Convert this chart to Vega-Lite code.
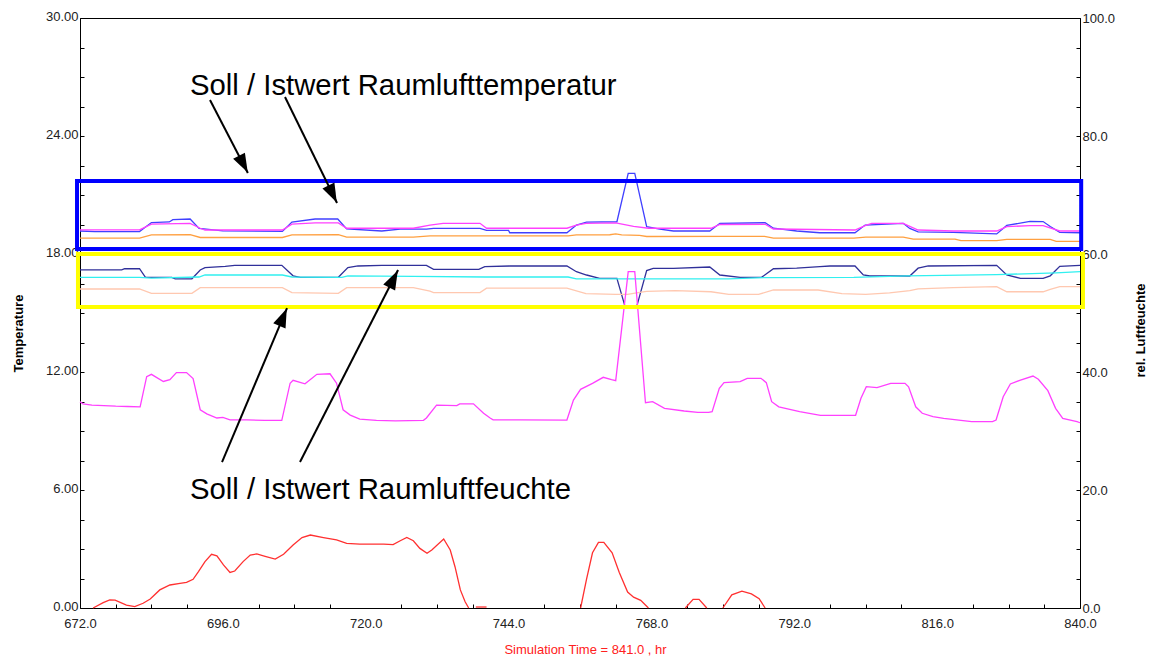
{
"$schema":"https://vega.github.io/schema/vega-lite/v6.json",
"width":1000,"height":590,
"autosize":{"type":"none"},
"padding":{"left":80,"top":18,"right":70,"bottom":52},
"background":"white",
"config":{"view":{"stroke":"#000","strokeWidth":1},
"axis":{"labelFont":"Liberation Sans","labelFontSize":13,"labelColor":"#222","titleFont":"Liberation Sans","titleFontSize":13,"titleFontWeight":"bold","titleColor":"#000","domainColor":"#000","tickColor":"#000","grid":false,"tickSize":-4,"labelOverlap":false,"labelFlush":false}},
"datasets":{
"temp":[
{"s":"T1","t":672,"v":19.17},{"s":"T1","t":674.5,"v":19.14},{"s":"T1","t":682,"v":19.14},{"s":"T1","t":684,"v":19.6},{"s":"T1","t":687,"v":19.63},{"s":"T1","t":687.6,"v":19.75},{"s":"T1","t":690.5,"v":19.78},{"s":"T1","t":692,"v":19.3},{"s":"T1","t":696,"v":19.18},{"s":"T1","t":706,"v":19.15},{"s":"T1","t":707.6,"v":19.62},{"s":"T1","t":711.5,"v":19.78},{"s":"T1","t":715.3,"v":19.78},{"s":"T1","t":716.8,"v":19.28},{"s":"T1","t":722.7,"v":19.17},{"s":"T1","t":725.8,"v":19.26},{"s":"T1","t":730.2,"v":19.26},{"s":"T1","t":731.4,"v":19.3},{"s":"T1","t":739.2,"v":19.3},{"s":"T1","t":740.3,"v":19.2},{"s":"T1","t":744,"v":19.2},{"s":"T1","t":744.2,"v":19.08},{"s":"T1","t":753.8,"v":19.08},{"s":"T1","t":755.4,"v":19.47},{"s":"T1","t":757.1,"v":19.62},{"s":"T1","t":762.2,"v":19.64},{"s":"T1","t":764.1,"v":22.1},{"s":"T1","t":765.2,"v":22.1},{"s":"T1","t":767.2,"v":19.39},{"s":"T1","t":769.4,"v":19.27},{"s":"T1","t":771.7,"v":19.17},{"s":"T1","t":777.8,"v":19.17},{"s":"T1","t":779.5,"v":19.56},{"s":"T1","t":787.1,"v":19.59},{"s":"T1","t":788.5,"v":19.31},{"s":"T1","t":792.4,"v":19.17},{"s":"T1","t":796.3,"v":19.08},{"s":"T1","t":802.2,"v":19.08},{"s":"T1","t":803.9,"v":19.47},{"s":"T1","t":810.3,"v":19.56},{"s":"T1","t":811.4,"v":19.3},{"s":"T1","t":812.8,"v":19.12},{"s":"T1","t":818.7,"v":19.1},{"s":"T1","t":826,"v":19.02},{"s":"T1","t":827.7,"v":19.45},{"s":"T1","t":831.6,"v":19.66},{"s":"T1","t":833.8,"v":19.65},{"s":"T1","t":835,"v":19.4},{"s":"T1","t":836.6,"v":19.1},{"s":"T1","t":840,"v":19.08},
{"s":"T2","t":672,"v":19.23},{"s":"T2","t":682,"v":19.23},{"s":"T2","t":684,"v":19.52},{"s":"T2","t":690.5,"v":19.56},{"s":"T2","t":692.2,"v":19.31},{"s":"T2","t":693,"v":19.22},{"s":"T2","t":706,"v":19.22},{"s":"T2","t":707.6,"v":19.52},{"s":"T2","t":711.5,"v":19.58},{"s":"T2","t":715.4,"v":19.58},{"s":"T2","t":716.8,"v":19.31},{"s":"T2","t":728,"v":19.31},{"s":"T2","t":730.8,"v":19.47},{"s":"T2","t":733,"v":19.56},{"s":"T2","t":739.2,"v":19.56},{"s":"T2","t":740.3,"v":19.31},{"s":"T2","t":753.8,"v":19.31},{"s":"T2","t":755.4,"v":19.47},{"s":"T2","t":757,"v":19.56},{"s":"T2","t":762,"v":19.58},{"s":"T2","t":765,"v":19.4},{"s":"T2","t":767.5,"v":19.31},{"s":"T2","t":778,"v":19.31},{"s":"T2","t":779.5,"v":19.5},{"s":"T2","t":787.1,"v":19.51},{"s":"T2","t":788.5,"v":19.27},{"s":"T2","t":802.2,"v":19.22},{"s":"T2","t":803.9,"v":19.44},{"s":"T2","t":805,"v":19.56},{"s":"T2","t":810.3,"v":19.56},{"s":"T2","t":812.8,"v":19.22},{"s":"T2","t":818.7,"v":19.17},{"s":"T2","t":826,"v":19.17},{"s":"T2","t":827.7,"v":19.39},{"s":"T2","t":831.6,"v":19.44},{"s":"T2","t":833.8,"v":19.44},{"s":"T2","t":836.6,"v":19.17},{"s":"T2","t":840,"v":19.17},
{"s":"T3","t":672,"v":18.81},{"s":"T3","t":682,"v":18.81},{"s":"T3","t":684,"v":18.97},{"s":"T3","t":690.5,"v":18.98},{"s":"T3","t":692.2,"v":18.84},{"s":"T3","t":706,"v":18.84},{"s":"T3","t":707.6,"v":18.97},{"s":"T3","t":715.4,"v":18.98},{"s":"T3","t":716.8,"v":18.86},{"s":"T3","t":728,"v":18.86},{"s":"T3","t":730.8,"v":18.92},{"s":"T3","t":754,"v":18.92},{"s":"T3","t":755.4,"v":18.97},{"s":"T3","t":761,"v":18.98},{"s":"T3","t":762,"v":19.02},{"s":"T3","t":763,"v":18.97},{"s":"T3","t":766,"v":18.95},{"s":"T3","t":767.2,"v":18.89},{"s":"T3","t":781,"v":18.9},{"s":"T3","t":787,"v":18.9},{"s":"T3","t":788.5,"v":18.81},{"s":"T3","t":802,"v":18.81},{"s":"T3","t":804,"v":18.86},{"s":"T3","t":810.3,"v":18.86},{"s":"T3","t":812,"v":18.76},{"s":"T3","t":819,"v":18.76},{"s":"T3","t":820,"v":18.68},{"s":"T3","t":826,"v":18.68},{"s":"T3","t":827.7,"v":18.74},{"s":"T3","t":835,"v":18.74},{"s":"T3","t":836,"v":18.64},{"s":"T3","t":840,"v":18.64},
{"s":"T4","g":1,"t":674.2,"v":0},{"s":"T4","g":1,"t":675.9,"v":0.27},{"s":"T4","g":1,"t":677,"v":0.41},{"s":"T4","g":1,"t":677.9,"v":0.4},{"s":"T4","g":1,"t":679.8,"v":0.15},{"s":"T4","g":1,"t":681.2,"v":0.07},{"s":"T4","g":1,"t":682.6,"v":0.24},{"s":"T4","g":1,"t":683.8,"v":0.46},{"s":"T4","g":1,"t":685.4,"v":0.92},{"s":"T4","g":1,"t":687.1,"v":1.17},{"s":"T4","g":1,"t":688.8,"v":1.25},{"s":"T4","g":1,"t":689.9,"v":1.3},{"s":"T4","g":1,"t":691,"v":1.46},{"s":"T4","g":1,"t":691.9,"v":1.85},{"s":"T4","g":1,"t":693,"v":2.36},{"s":"T4","g":1,"t":694.1,"v":2.73},{"s":"T4","g":1,"t":695,"v":2.65},{"s":"T4","g":1,"t":696.1,"v":2.19},{"s":"T4","g":1,"t":697.2,"v":1.81},{"s":"T4","g":1,"t":698,"v":1.88},{"s":"T4","g":1,"t":699.4,"v":2.36},{"s":"T4","g":1,"t":700.6,"v":2.69},{"s":"T4","g":1,"t":701.7,"v":2.75},{"s":"T4","g":1,"t":703.1,"v":2.63},{"s":"T4","g":1,"t":704.8,"v":2.49},{"s":"T4","g":1,"t":706.2,"v":2.73},{"s":"T4","g":1,"t":707.8,"v":3.2},{"s":"T4","g":1,"t":709.3,"v":3.58},{"s":"T4","g":1,"t":710.7,"v":3.71},{"s":"T4","g":1,"t":712.9,"v":3.58},{"s":"T4","g":1,"t":715.1,"v":3.46},{"s":"T4","g":1,"t":716.8,"v":3.29},{"s":"T4","g":1,"t":719,"v":3.25},{"s":"T4","g":1,"t":723,"v":3.25},{"s":"T4","g":1,"t":724.6,"v":3.22},{"s":"T4","g":1,"t":725.8,"v":3.42},{"s":"T4","g":1,"t":726.9,"v":3.59},{"s":"T4","g":1,"t":728,"v":3.42},{"s":"T4","g":1,"t":729.1,"v":3.03},{"s":"T4","g":1,"t":730.3,"v":2.78},{"s":"T4","g":1,"t":731.1,"v":2.95},{"s":"T4","g":1,"t":733.1,"v":3.51},{"s":"T4","g":1,"t":734.2,"v":2.95},{"s":"T4","g":1,"t":735,"v":2.1},{"s":"T4","g":1,"t":735.9,"v":0.92},{"s":"T4","g":1,"t":736.7,"v":0.32},{"s":"T4","g":1,"t":737.3,"v":0},
{"s":"T4","g":2,"t":738.5,"v":0.05},{"s":"T4","g":2,"t":740.3,"v":0.05},
{"s":"T4","g":3,"t":756.1,"v":0},{"s":"T4","g":3,"t":757.1,"v":1.47},{"s":"T4","g":3,"t":758.1,"v":2.81},{"s":"T4","g":3,"t":759.1,"v":3.34},{"s":"T4","g":3,"t":760,"v":3.34},{"s":"T4","g":3,"t":761.4,"v":2.81},{"s":"T4","g":3,"t":762.6,"v":1.81},{"s":"T4","g":3,"t":764,"v":0.81},{"s":"T4","g":3,"t":765,"v":0.55},{"s":"T4","g":3,"t":766.2,"v":0.39},{"s":"T4","g":3,"t":767.5,"v":0},
{"s":"T4","g":4,"t":773.7,"v":0},{"s":"T4","g":4,"t":775,"v":0.44},{"s":"T4","g":4,"t":776,"v":0.44},{"s":"T4","g":4,"t":777.3,"v":0},
{"s":"T4","g":5,"t":780,"v":0},{"s":"T4","g":5,"t":781.5,"v":0.67},{"s":"T4","g":5,"t":783.2,"v":0.86},{"s":"T4","g":5,"t":784.8,"v":0.72},{"s":"T4","g":5,"t":786.1,"v":0.47},{"s":"T4","g":5,"t":787.1,"v":0}
],
"hum":[
{"s":"H1","t":672,"v":57.3},{"s":"H1","t":679,"v":57.3},{"s":"H1","t":679.5,"v":57.5},{"s":"H1","t":682,"v":57.5},{"s":"H1","t":683,"v":56.05},{"s":"H1","t":687.4,"v":56.05},{"s":"H1","t":688,"v":55.8},{"s":"H1","t":690.8,"v":55.8},{"s":"H1","t":692.2,"v":57.3},{"s":"H1","t":693,"v":57.7},{"s":"H1","t":696.4,"v":57.9},{"s":"H1","t":698,"v":58.08},{"s":"H1","t":705.9,"v":58.08},{"s":"H1","t":707.8,"v":56.3},{"s":"H1","t":709,"v":56.05},{"s":"H1","t":715.4,"v":56.05},{"s":"H1","t":717,"v":57.7},{"s":"H1","t":718.7,"v":57.97},{"s":"H1","t":722.7,"v":58.08},{"s":"H1","t":730.2,"v":58.08},{"s":"H1","t":731.4,"v":57.4},{"s":"H1","t":739,"v":57.4},{"s":"H1","t":740,"v":57.85},{"s":"H1","t":744.2,"v":57.97},{"s":"H1","t":753.8,"v":57.97},{"s":"H1","t":755.4,"v":57.0},{"s":"H1","t":757.1,"v":56.44},{"s":"H1","t":759.3,"v":55.88},{"s":"H1","t":762.2,"v":55.88},{"s":"H1","t":763.6,"v":51.0},{"s":"H1","t":765.5,"v":51.0},{"s":"H1","t":767.2,"v":57.2},{"s":"H1","t":768.3,"v":57.57},{"s":"H1","t":771.7,"v":57.57},{"s":"H1","t":777.8,"v":57.8},{"s":"H1","t":779.5,"v":56.44},{"s":"H1","t":782.9,"v":56.05},{"s":"H1","t":786.5,"v":56.05},{"s":"H1","t":788.5,"v":57.5},{"s":"H1","t":792.4,"v":57.6},{"s":"H1","t":796.3,"v":57.85},{"s":"H1","t":798,"v":57.97},{"s":"H1","t":802.2,"v":57.97},{"s":"H1","t":803.6,"v":56.44},{"s":"H1","t":804.7,"v":56.27},{"s":"H1","t":811.4,"v":56.27},{"s":"H1","t":812.8,"v":57.6},{"s":"H1","t":814.5,"v":57.97},{"s":"H1","t":826,"v":58.08},{"s":"H1","t":827.7,"v":56.44},{"s":"H1","t":830,"v":55.88},{"s":"H1","t":833.8,"v":55.88},{"s":"H1","t":835,"v":56.3},{"s":"H1","t":836.6,"v":57.9},{"s":"H1","t":840,"v":58.08},
{"s":"H2","t":672,"v":56.05},{"s":"H2","t":682,"v":56.05},{"s":"H2","t":684,"v":55.9},{"s":"H2","t":692,"v":56.1},{"s":"H2","t":693,"v":56.44},{"s":"H2","t":706,"v":56.44},{"s":"H2","t":707.6,"v":56.1},{"s":"H2","t":716,"v":56.05},{"s":"H2","t":717,"v":56.3},{"s":"H2","t":728,"v":56.2},{"s":"H2","t":740,"v":56.1},{"s":"H2","t":754,"v":56.1},{"s":"H2","t":755.4,"v":55.8},{"s":"H2","t":781,"v":55.8},{"s":"H2","t":787,"v":56.0},{"s":"H2","t":802,"v":56.05},{"s":"H2","t":811,"v":56.3},{"s":"H2","t":826,"v":56.5},{"s":"H2","t":836,"v":56.8},{"s":"H2","t":840,"v":57.0},
{"s":"H3","t":672,"v":54.07},{"s":"H3","t":682,"v":54.07},{"s":"H3","t":684,"v":53.33},{"s":"H3","t":690.8,"v":53.33},{"s":"H3","t":692.2,"v":54.3},{"s":"H3","t":706,"v":54.3},{"s":"H3","t":707.6,"v":53.45},{"s":"H3","t":715.4,"v":53.33},{"s":"H3","t":716.8,"v":54.3},{"s":"H3","t":728,"v":54.3},{"s":"H3","t":730.8,"v":53.7},{"s":"H3","t":731.4,"v":53.45},{"s":"H3","t":739.2,"v":53.45},{"s":"H3","t":740.3,"v":54.2},{"s":"H3","t":753.8,"v":54.2},{"s":"H3","t":757,"v":53.3},{"s":"H3","t":762,"v":53.16},{"s":"H3","t":764,"v":53.16},{"s":"H3","t":766,"v":53.5},{"s":"H3","t":767.2,"v":53.65},{"s":"H3","t":772,"v":53.8},{"s":"H3","t":778,"v":53.6},{"s":"H3","t":781,"v":53.16},{"s":"H3","t":786,"v":53.16},{"s":"H3","t":788.5,"v":53.9},{"s":"H3","t":796,"v":53.9},{"s":"H3","t":800,"v":53.3},{"s":"H3","t":804,"v":53.16},{"s":"H3","t":808,"v":53.4},{"s":"H3","t":811.4,"v":53.8},{"s":"H3","t":812.8,"v":54.1},{"s":"H3","t":818.7,"v":54.3},{"s":"H3","t":826,"v":54.46},{"s":"H3","t":827.7,"v":53.6},{"s":"H3","t":833.8,"v":53.6},{"s":"H3","t":835,"v":54.0},{"s":"H3","t":836.6,"v":54.46},{"s":"H3","t":840,"v":54.46},
{"s":"H4","t":672,"v":34.97},{"s":"H4","t":672.5,"v":34.6},{"s":"H4","t":674,"v":34.4},{"s":"H4","t":676,"v":34.3},{"s":"H4","t":678,"v":34.2},{"s":"H4","t":680,"v":34.15},{"s":"H4","t":682.1,"v":34.1},{"s":"H4","t":683.2,"v":39.2},{"s":"H4","t":684,"v":39.6},{"s":"H4","t":686,"v":38.4},{"s":"H4","t":687.1,"v":38.7},{"s":"H4","t":688.2,"v":39.9},{"s":"H4","t":689.9,"v":39.9},{"s":"H4","t":691,"v":38.9},{"s":"H4","t":692.2,"v":33.6},{"s":"H4","t":693.3,"v":32.9},{"s":"H4","t":695,"v":32.2},{"s":"H4","t":696,"v":32.3},{"s":"H4","t":697.2,"v":31.9},{"s":"H4","t":700,"v":31.9},{"s":"H4","t":703,"v":31.8},{"s":"H4","t":705.9,"v":31.8},{"s":"H4","t":707.3,"v":38.1},{"s":"H4","t":707.8,"v":38.6},{"s":"H4","t":709.8,"v":38.0},{"s":"H4","t":711.8,"v":39.6},{"s":"H4","t":714,"v":39.7},{"s":"H4","t":715.1,"v":38.1},{"s":"H4","t":716.2,"v":33.6},{"s":"H4","t":717.4,"v":32.7},{"s":"H4","t":719,"v":32.0},{"s":"H4","t":721.8,"v":31.8},{"s":"H4","t":725,"v":31.7},{"s":"H4","t":729.7,"v":31.8},{"s":"H4","t":730.2,"v":32.2},{"s":"H4","t":731.9,"v":34.4},{"s":"H4","t":735.3,"v":34.3},{"s":"H4","t":735.8,"v":34.6},{"s":"H4","t":738.1,"v":34.6},{"s":"H4","t":739.8,"v":33.0},{"s":"H4","t":740.9,"v":32.2},{"s":"H4","t":741.4,"v":31.9},{"s":"H4","t":746,"v":31.9},{"s":"H4","t":753.8,"v":31.86},{"s":"H4","t":754.9,"v":35.25},{"s":"H4","t":756.1,"v":37.06},{"s":"H4","t":758.1,"v":38.08},{"s":"H4","t":759.9,"v":39.1},{"s":"H4","t":761.3,"v":38.7},{"s":"H4","t":762,"v":38.53},{"s":"H4","t":764.1,"v":57.0},{"s":"H4","t":765.2,"v":57.0},{"s":"H4","t":767,"v":34.8},{"s":"H4","t":768.2,"v":34.97},{"s":"H4","t":770.2,"v":33.84},{"s":"H4","t":773.5,"v":33.39},{"s":"H4","t":775.8,"v":33.16},{"s":"H4","t":777.6,"v":33.16},{"s":"H4","t":778.2,"v":33.28},{"s":"H4","t":779.4,"v":37.23},{"s":"H4","t":780.2,"v":38.2},{"s":"H4","t":782.9,"v":38.36},{"s":"H4","t":784.1,"v":38.93},{"s":"H4","t":786.4,"v":38.93},{"s":"H4","t":787.3,"v":38.2},{"s":"H4","t":788.2,"v":34.97},{"s":"H4","t":789.4,"v":34.1},{"s":"H4","t":792.9,"v":33.28},{"s":"H4","t":796.4,"v":32.66},{"s":"H4","t":802.3,"v":32.66},{"s":"H4","t":803.2,"v":35.54},{"s":"H4","t":804.1,"v":37.51},{"s":"H4","t":805.9,"v":37.34},{"s":"H4","t":808.2,"v":38.08},{"s":"H4","t":810.6,"v":38.08},{"s":"H4","t":811.2,"v":37.5},{"s":"H4","t":812.4,"v":34.1},{"s":"H4","t":813.5,"v":33.0},{"s":"H4","t":815.3,"v":32.43},{"s":"H4","t":817.1,"v":32.15},{"s":"H4","t":821.8,"v":31.58},{"s":"H4","t":825.3,"v":31.58},{"s":"H4","t":825.9,"v":31.86},{"s":"H4","t":827.1,"v":35.8},{"s":"H4","t":828.3,"v":37.97},{"s":"H4","t":830,"v":38.64},{"s":"H4","t":832.1,"v":39.32},{"s":"H4","t":833,"v":38.76},{"s":"H4","t":834.6,"v":36.83},{"s":"H4","t":835.9,"v":33.84},{"s":"H4","t":837.1,"v":32.15},{"s":"H4","t":839.5,"v":31.58},{"s":"H4","t":840,"v":31.4}
],
"boxes":[{"b":"temp","t":671.5,"t2":840.2,"v":21.71,"v2":18.25},{"b":"hum","t":671.66,"t2":840.5,"v":18.0,"v2":15.3}],
"arrows":[{"t":693.84,"v":25.83,"t2":700.2,"v2":22.12},{"t":706.44,"v":25.98,"t2":715.18,"v2":20.59},{"t":695.86,"v":7.42,"t2":706.78,"v2":15.25},{"t":708.96,"v":7.42,"t2":725.43,"v2":17.19}],
"heads":[{"t":699.45,"v":22.57,"a":152.5},{"t":714.44,"v":21.05,"a":153.9},{"t":706.12,"v":14.79,"a":22.9},{"t":724.67,"v":16.73,"a":27}],
"labels":[{"t":690.48,"v":26.08,"label":"Soll / Istwert Raumlufttemperatur"},{"t":690.48,"v":5.54,"label":"Soll / Istwert Raumluftfeuchte"}]
},
"encoding":{"x":{"field":"t","type":"quantitative","scale":{"domain":[672,840],"nice":false,"zero":false},
"axis":{"values":[672,678,684,690,696,702,708,714,720,726,732,738,744,750,756,762,768,774,780,786,792,798,804,810,816,822,828,834,840],"labelExpr":"datum.value % 24 === 0 ? format(datum.value, '.1f') : ''","labelPadding":13,"title":"Simulation Time = 841.0 , hr","titleColor":"#ff2020","titleFontWeight":"normal","titleX":505,"titleY":41,"titleBaseline":"middle","titleAlign":"center","tickColor":{"condition":{"test":"datum.value % 24 === 0","value":"#fff"},"value":"#000"}}}},
"layer":[
{"data":{"name":"hum"},
 "mark":{"type":"line","strokeWidth":1.3,"interpolate":"linear"},
 "encoding":{"y":{"field":"v","type":"quantitative","scale":{"domain":[0,100],"nice":false,"zero":false},
 "axis":{"orient":"right","values":[0,5,10,15,20,25,30,35,40,45,50,55,60,65,70,75,80,85,90,95,100],"labelExpr":"datum.value % 20 === 0 ? format(datum.value, '.1f') : ''","labelPadding":6,"title":"rel. Luftfeuchte","titleAngle":270,"titleX":60,"titleY":312,"titleAlign":"center","titleBaseline":"middle"}},
 "color":{"field":"s","type":"nominal","legend":null,"scale":{"domain":["T1","T2","T3","T4","H1","H2","H3","H4"],"range":["#4040ff","#ff40ff","#ffa040","#ff3030","#30309a","#30f0f0","#ffc8b0","#ff40ff"]}}}},
{"encoding":{"y":{"field":"v","type":"quantitative","scale":{"domain":[0,30],"nice":false,"zero":false},
 "axis":{"orient":"left","values":[0,1.5,3,4.5,6,7.5,9,10.5,12,13.5,15,16.5,18,19.5,21,22.5,24,25.5,27,28.5,30],"labelExpr":"datum.value % 6 === 0 ? format(datum.value, '.2f') : ''","labelPadding":6,"labelOffset":-2,"title":"Temperature","titleX":-62,"titleY":315,"titleAlign":"center","titleBaseline":"middle"}}},
 "layer":[
 {"data":{"name":"temp"},"mark":{"type":"line","strokeWidth":1.3},
  "encoding":{"color":{"field":"s","type":"nominal","legend":null},"detail":{"field":"g"}}},
 {"data":{"name":"boxes"},"mark":{"type":"rect","filled":false,"strokeWidth":4},
  "encoding":{"x2":{"field":"t2"},"y2":{"field":"v2"},"stroke":{"field":"b","type":"nominal","legend":null,"scale":{"domain":["temp","hum"],"range":["#0000ff","#ffff00"]}}}},
 {"data":{"name":"arrows"},"mark":{"type":"rule","color":"#000","strokeWidth":2},
  "encoding":{"x2":{"field":"t2"},"y2":{"field":"v2"}}},
 {"data":{"name":"heads"},"mark":{"type":"point","shape":"M0,-1L0.7,1L-0.7,1Z","filled":true,"color":"#000","opacity":1,"size":361},
  "encoding":{"angle":{"field":"a","type":"quantitative","scale":null}}},
 {"data":{"name":"labels"},"mark":{"type":"text","align":"left","baseline":"alphabetic","font":"Liberation Sans","fontSize":29.3,"color":"#000"},
  "encoding":{"text":{"field":"label"}}}
 ]}
],
"resolve":{"scale":{"y":"independent"}}
}
